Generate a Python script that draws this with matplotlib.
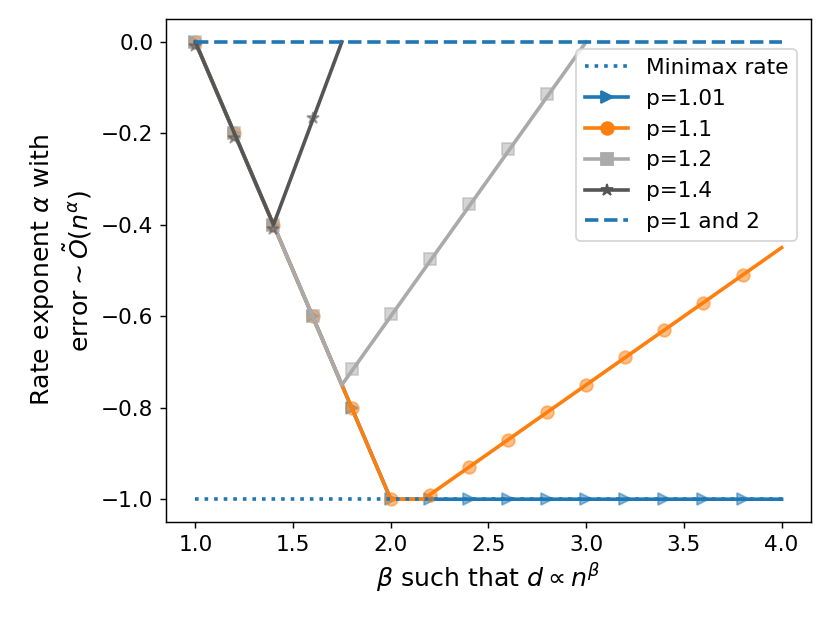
import numpy as np
import matplotlib
matplotlib.use("Agg")
import matplotlib.pyplot as plt

# theoretical rate curves (kink points)
p101_line_x = [1.0, 2.0, 4.0]
p101_line_y = [0.0, -1.0, -1.0]
p11_line_x = [1.0, 2.0, 2.167, 4.0]
p11_line_y = [0.0, -1.0, -1.0, -0.45]
p12_line_x = [1.0, 1.75, 3.0]
p12_line_y = [0.0, -0.75, 0.0]
p14_line_x = [1.0, 1.4, 1.75]
p14_line_y = [0.0, -0.4, 0.0]

# empirical points
beta_pts = [1.0, 1.2, 1.4, 1.6, 1.8, 2.0, 2.2, 2.4, 2.6, 2.8, 3.0, 3.2, 3.4, 3.6, 3.8]
p101_pts = [0.0, -0.2, -0.4, -0.6, -0.8, -1.0, -1.0, -1.0, -1.0, -1.0, -1.0, -1.0, -1.0, -1.0, -1.0]
p11_pts = [0.0, -0.2, -0.4, -0.6, -0.8, -1.0, -0.99, -0.93, -0.87, -0.81, -0.75, -0.69, -0.63, -0.57, -0.51]
p12_beta = [1.0, 1.2, 1.4, 1.6, 1.8, 2.0, 2.2, 2.4, 2.6, 2.8]
p12_pts = [0.0, -0.2, -0.4, -0.6, -0.715, -0.595, -0.475, -0.355, -0.235, -0.115]
p14_beta = [1.0, 1.2, 1.4, 1.6]
p14_pts = [-0.01, -0.21, -0.41, -0.167]

minimax_x = [1.0, 4.0]
minimax_y = [-1.0, -1.0]
p12_both_x = [1.0, 4.0]
p12_both_y = [0.0, 0.0]

c_blue = "tab:blue"
c_orange = "tab:orange"
c_light = "#aaaaaa"
c_dark = "#555555"

fig, ax = plt.subplots(figsize=(830/130, 623/130), dpi=130)
fig.subplots_adjust(left=0.2, right=0.977, top=0.9695, bottom=0.162)

ms = 7
lw = 2
ax.plot(p101_line_x, p101_line_y, color=c_blue, lw=lw)
ax.plot(beta_pts, p101_pts, ">", color=c_blue, ms=ms, alpha=0.5)
ax.plot(p11_line_x, p11_line_y, color=c_orange, lw=lw)
ax.plot(beta_pts, p11_pts, "o", color=c_orange, ms=ms, alpha=0.5)
ax.plot(p12_line_x, p12_line_y, color=c_light, lw=lw)
ax.plot(p12_beta, p12_pts, "s", color=c_light, ms=ms, alpha=0.5)
ax.plot(p14_line_x, p14_line_y, color=c_dark, lw=lw)
ax.plot(p14_beta, p14_pts, "*", color=c_dark, ms=ms, alpha=0.5)
ax.plot(minimax_x, minimax_y, ":", color=c_blue, lw=lw)
ax.plot(p12_both_x, p12_both_y, "--", color=c_blue, lw=lw)

# legend proxies
handles = [
    plt.Line2D([], [], ls=":", color=c_blue, lw=lw, label="Minimax rate"),
    plt.Line2D([], [], marker=">", color=c_blue, ms=ms, lw=lw, label="p=1.01"),
    plt.Line2D([], [], marker="o", color=c_orange, ms=ms, lw=lw, label="p=1.1"),
    plt.Line2D([], [], marker="s", color=c_light, ms=ms, lw=lw, label="p=1.2"),
    plt.Line2D([], [], marker="*", color=c_dark, ms=ms, lw=lw, label="p=1.4"),
    plt.Line2D([], [], ls="--", color=c_blue, lw=lw, label="p=1 and 2"),
]
ax.legend(handles=handles, loc="upper right", bbox_to_anchor=(0.978, 0.94),
          borderaxespad=0, fontsize=12)

ax.tick_params(labelsize=12)
ax.set_xlabel(r"$\beta$ such that $d \propto n^{\beta}$", fontsize=14)
ax.set_ylabel("Rate exponent $\\alpha$ with\nerror$\\sim\\tilde{O}(n^{\\alpha})$", fontsize=14)

fig.savefig("out.png", dpi=130)
